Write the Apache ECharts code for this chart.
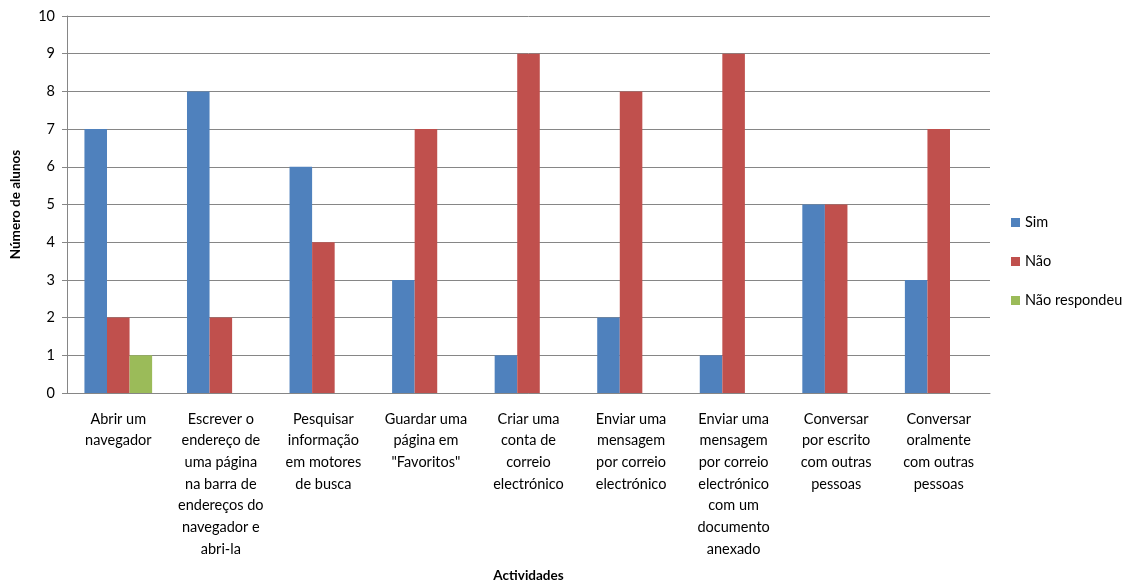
<!DOCTYPE html>
<html>
<head>
<meta charset="utf-8">
<script src="https://cdn.jsdelivr.net/npm/echarts@6/dist/echarts.min.js"></script>
<style>
html,body{margin:0;padding:0;background:#fff;}
#grafico{width:1127px;height:582px;}
</style>
</head>
<body>
<div id="grafico"></div>
<script>
// dados do gráfico
var actividades = [
	'Abrir um\nnavegador',
	'Escrever o\nendereço de\numa página\nna barra de\nendereços do\nnavegador e\nabri-la',
	'Pesquisar\ninformação\nem motores\nde busca',
	'Guardar uma\npágina em\n"Favoritos"',
	'Criar uma\nconta de\ncorreio\nelectrónico',
	'Enviar uma\nmensagem\npor correio\nelectrónico',
	'Enviar uma\nmensagem\npor correio\nelectrónico\ncom um\ndocumento\nanexado',
	'Conversar\npor escrito\ncom outras\npessoas',
	'Conversar\noralmente\ncom outras\npessoas'
];
var sim = [7, 8, 6, 3, 1, 2, 1, 5, 3];
var nao = [2, 2, 4, 7, 9, 8, 9, 5, 7];
var naoRespondeu = [1, 0, 0, 0, 0, 0, 0, 0, 0];

var fonte = 'Lato, "Open Sans", sans-serif';

var grafico = echarts.init(document.getElementById('grafico'));
grafico.setOption({
	animation: false,
	textStyle: {fontFamily: fonte},
	color: ['#4F81BD', '#C0504D', '#9BBB59'],
	legend: {
		orient: 'vertical',
		left: 1006,
		top: 210,
		itemWidth: 9,
		itemHeight: 9,
		itemGap: 24,
		icon: 'rect',
		textStyle: {fontFamily: fonte, fontSize: 14.5, color: '#000'},
		data: ['Sim', 'Não', 'Não respondeu']
	},
	grid: {left: 67, right: 137, top: 16, bottom: 189, outerBoundsMode: 'none'},
	xAxis: {
		type: 'category',
		data: actividades,
		name: 'Actividades',
		nameLocation: 'middle',
		nameGap: 176,
		nameTextStyle: {fontFamily: fonte, fontSize: 13.5, fontWeight: 'bold', color: '#000'},
		axisLine: {lineStyle: {color: '#868686'}},
		axisTick: {show: false},
		axisLabel: {fontFamily: fonte, fontSize: 14.5, color: '#000', lineHeight: 21.7, margin: 15, interval: 0}
	},
	yAxis: {
		type: 'value',
		min: 0,
		max: 10,
		interval: 1,
		name: 'Número de alunos',
		nameLocation: 'middle',
		nameGap: 44,
		nameTextStyle: {fontFamily: fonte, fontSize: 13.5, fontWeight: 'bold', color: '#000'},
		axisLine: {show: true, lineStyle: {color: '#868686'}},
		axisTick: {show: true, length: 5, lineStyle: {color: '#868686'}},
		axisLabel: {fontFamily: fonte, fontSize: 14.5, color: '#000', margin: 12},
		splitLine: {lineStyle: {color: '#868686'}}
	},
	series: [
		{name: 'Sim', type: 'bar', data: sim, barGap: '0%', barCategoryGap: '34%'},
		{name: 'Não', type: 'bar', data: nao, barGap: '0%', barCategoryGap: '34%'},
		{name: 'Não respondeu', type: 'bar', data: naoRespondeu, barGap: '0%', barCategoryGap: '34%'}
	]
});
window.onresize = grafico.resize;
</script>
</body>
</html>
